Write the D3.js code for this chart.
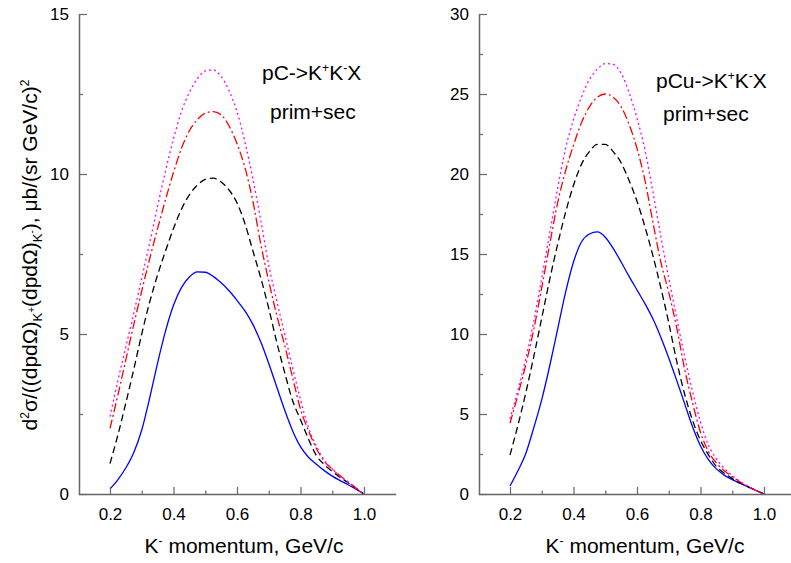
<!DOCTYPE html>
<html>
<head>
<meta charset="utf-8">
<script src="https://cdn.jsdelivr.net/npm/d3@7"></script>
<style>
  html, body { margin: 0; padding: 0; background: #fff; }
  svg { display: block; font-family: "Liberation Sans", Arial, sans-serif; }
</style>
</head>
<body>
<svg id="chart" width="791" height="563"></svg>
<script>
// ---------------- data ----------------
const momentum = [0.2, 0.225, 0.25, 0.275, 0.3, 0.325, 0.35, 0.375, 0.4, 0.425, 0.45, 0.475, 0.5,
                  0.525, 0.55, 0.575, 0.6, 0.625, 0.65, 0.675, 0.7, 0.725, 0.75, 0.775, 0.8,
                  0.825, 0.85, 0.875, 0.9, 0.925, 0.95, 0.975, 1.0];

// pC -> K+K-X
const pcBlue    = [0.16, 0.45, 0.82, 1.3, 2.0, 3.0, 4.1, 5.1, 5.9, 6.45, 6.78, 6.94, 6.93,
                   6.8, 6.6, 6.35, 6.05, 5.72, 5.3, 4.75, 4.08, 3.35, 2.63, 1.98, 1.48,
                   1.15, 0.93, 0.73, 0.56, 0.42, 0.29, 0.15, 0.0];
const pcBlack   = [0.95, 1.85, 2.85, 3.9, 5.0, 6.0, 6.85, 7.6, 8.3, 8.9, 9.35, 9.65, 9.83,
                   9.87, 9.75, 9.5, 9.1, 8.45, 7.6, 6.75, 5.8, 4.75, 3.8, 2.92, 2.32,
                   1.72, 1.2, 0.92, 0.7, 0.52, 0.35, 0.17, 0.0];
const pcRed     = [2.05, 3.1, 4.2, 5.3, 6.35, 7.35, 8.3, 9.2, 10.05, 10.8, 11.35, 11.7, 11.9,
                   11.95, 11.85, 11.5, 10.95, 10.2, 9.15, 7.8, 6.65, 5.6, 4.65, 3.65, 2.65,
                   1.98, 1.42, 1.02, 0.78, 0.57, 0.38, 0.19, 0.0];
const pcMagenta = [2.42, 3.55, 4.6, 5.65, 6.75, 7.85, 9.0, 10.1, 11.1, 11.95, 12.55, 12.98, 13.22,
                   13.25, 13.05, 12.6, 11.95, 11.0, 9.85, 8.55, 7.15, 6.05, 5.0, 3.95, 2.95,
                   2.08, 1.5, 1.05, 0.78, 0.55, 0.36, 0.17, 0.0];

// pCu -> K+K-X
const pcuBlue    = [0.5, 1.45, 2.55, 4.15, 5.9, 8.0, 10.3, 12.6, 14.5, 15.75, 16.25, 16.38, 16.05,
                    15.35, 14.5, 13.6, 12.75, 11.9, 10.95, 9.8, 8.5, 7.1, 5.65, 4.2, 3.0,
                    2.15, 1.57, 1.18, 0.9, 0.67, 0.44, 0.22, 0.0];
const pcuBlack   = [2.44, 4.3, 6.35, 8.6, 11.0, 13.4, 15.6, 17.6, 19.3, 20.6, 21.4, 21.85, 21.85,
                    21.4, 20.7, 19.6, 18.3, 16.7, 14.9, 12.9, 10.7, 8.3, 6.25, 4.6, 3.35,
                    2.45, 1.72, 1.3, 0.97, 0.68, 0.45, 0.22, 0.0];
const pcuRed     = [4.42, 6.2, 8.1, 10.3, 12.9, 15.6, 18.2, 20.2, 21.8, 23.2, 24.2, 24.8, 25.0,
                    24.8, 24.2, 23.1, 21.6, 19.6, 17.0, 14.5, 12.6, 10.4, 7.8, 5.7, 3.85,
                    2.65, 1.95, 1.45, 1.08, 0.75, 0.47, 0.22, 0.0];
const pcuMagenta = [4.7, 6.5, 8.5, 10.8, 13.5, 16.3, 19.1, 21.6, 23.4, 24.8, 25.9, 26.55, 26.9,
                    26.85, 26.3, 25.1, 23.5, 21.5, 18.9, 16.1, 13.5, 11.0, 8.6, 6.4, 4.5,
                    3.05, 2.2, 1.6, 1.15, 0.78, 0.48, 0.22, 0.0];

// axes
const xMajorTicks = [0.2, 0.4, 0.6, 0.8, 1.0];
const xMinorTicks = [0.3, 0.5, 0.7, 0.9];
const pcYMajor  = [0, 5, 10, 15];
const pcYMinor  = [2.5, 7.5, 12.5];
const pcuYMajor = [0, 5, 10, 15, 20, 25, 30];
const pcuYMinor = [2.5, 7.5, 12.5, 17.5, 22.5, 27.5];

// ---------------- drawing ----------------
const svg = d3.select("#chart");
const AXIS_COLOR = "#666";
const FONT_TICK = 17;
const FONT_TITLE = 21;

const styles = [
  { color: "#0000ff", dash: null },
  { color: "#000000", dash: "7,4" },
  { color: "#ff0000", dash: "9,3,2,3" },
  { color: "#ff00ff", dash: "2,3" }
];

function drawPanel(cfg) {
  const g = svg.append("g").attr("transform", `translate(${cfg.dx},0)`);
  const x = d3.scaleLinear().domain([0.1, 1.1]).range([78.25, 395.75]);
  const y = d3.scaleLinear().domain([0, cfg.yMax]).range([494, 14]);

  // curves
  const line = d3.line()
    .x((d, i) => x(momentum[i]))
    .y(d => y(d))
    .curve(d3.curveMonotoneX);
  cfg.series.forEach((s, k) => {
    const p = g.append("path")
      .attr("d", line(s))
      .attr("fill", "none")
      .attr("stroke", styles[k].color)
      .attr("stroke-width", 1.3);
    if (styles[k].dash) p.attr("stroke-dasharray", styles[k].dash);
  });

  // x axis
  g.append("g").attr("transform", "translate(0,494)")
    .call(d3.axisBottom(x).tickValues(xMajorTicks).tickSize(-7).tickSizeOuter(0)
      .tickPadding(14).tickFormat(d3.format(".1f")));
  g.append("g").attr("transform", "translate(0,494)")
    .call(d3.axisBottom(x).tickValues(xMinorTicks).tickSize(-3.5).tickSizeOuter(0).tickFormat(""))
    .select(".domain").remove();

  // y axis
  g.append("g").attr("transform", "translate(79,0)")
    .call(d3.axisLeft(y).tickValues(cfg.yMajor).tickSize(-8).tickSizeOuter(0).tickPadding(10)
      .tickFormat(d3.format("d")));
  g.append("g").attr("transform", "translate(79,0)")
    .call(d3.axisLeft(y).tickValues(cfg.yMinor).tickSize(-4).tickSizeOuter(0).tickFormat(""))
    .select(".domain").remove();

  g.selectAll(".domain").attr("stroke", AXIS_COLOR).attr("stroke-width", 1.5);
  g.selectAll(".tick line").attr("stroke", AXIS_COLOR).attr("stroke-width", 1.2);
  g.selectAll(".tick text").attr("font-size", FONT_TICK).attr("fill", "#000")
    .attr("font-family", "Liberation Sans, Arial, sans-serif");

  // x title
  const xt = g.append("text")
    .attr("x", cfg.xTitleX).attr("y", 553)
    .attr("text-anchor", "middle")
    .attr("font-size", FONT_TITLE).attr("fill", "#000");
  xt.append("tspan").text("K");
  xt.append("tspan").attr("font-size", 12).attr("dy", -8).text("-");
  xt.append("tspan").attr("dy", 8).text(" momentum, GeV/c");

  // annotation
  const a1 = g.append("text")
    .attr("x", cfg.annX).attr("y", cfg.annY)
    .attr("font-size", FONT_TITLE).attr("fill", "#000");
  a1.append("tspan").text(cfg.reaction + "->K");
  a1.append("tspan").attr("font-size", 12).attr("dy", -8).text("+");
  a1.append("tspan").attr("dy", 8).text("K");
  a1.append("tspan").attr("font-size", 12).attr("dy", -8).text("-");
  a1.append("tspan").attr("dy", 8).text("X");

  g.append("text")
    .attr("x", cfg.annX2).attr("y", cfg.annY2)
    .attr("font-size", FONT_TITLE).attr("fill", "#000")
    .text("prim+sec");
}

drawPanel({
  dx: 0, yMax: 15, yMajor: pcYMajor, yMinor: pcYMinor,
  series: [pcBlue, pcBlack, pcRed, pcMagenta],
  xTitleX: 244, reaction: "pC", annX: 262, annY: 80, annX2: 270, annY2: 119
});
drawPanel({
  dx: 400, yMax: 30, yMajor: pcuYMajor, yMinor: pcuYMinor,
  series: [pcuBlue, pcuBlack, pcuRed, pcuMagenta],
  xTitleX: 245, reaction: "pCu", annX: 256, annY: 88, annX2: 263, annY2: 121
});

// y title (left panel)
const yt = svg.append("text")
  .attr("transform", "translate(37,255) rotate(-90)")
  .attr("text-anchor", "middle")
  .attr("font-size", 21).attr("fill", "#000");
yt.append("tspan").text("d");
yt.append("tspan").attr("font-size", 12).attr("dy", -8).text("2");
yt.append("tspan").attr("dy", 8).text("σ/((dpdΩ)");
yt.append("tspan").attr("font-size", 13).attr("dy", 5).text("K");
yt.append("tspan").attr("font-size", 10).attr("dy", -7).text("+");
yt.append("tspan").attr("dy", 2).text("(dpdΩ)");
yt.append("tspan").attr("font-size", 13).attr("dy", 5).text("K");
yt.append("tspan").attr("font-size", 10).attr("dy", -7).text("-");
yt.append("tspan").attr("dy", 2).text("), μb/(sr GeV/c)");
yt.append("tspan").attr("font-size", 12).attr("dy", -8).text("2");
</script>
</body>
</html>
